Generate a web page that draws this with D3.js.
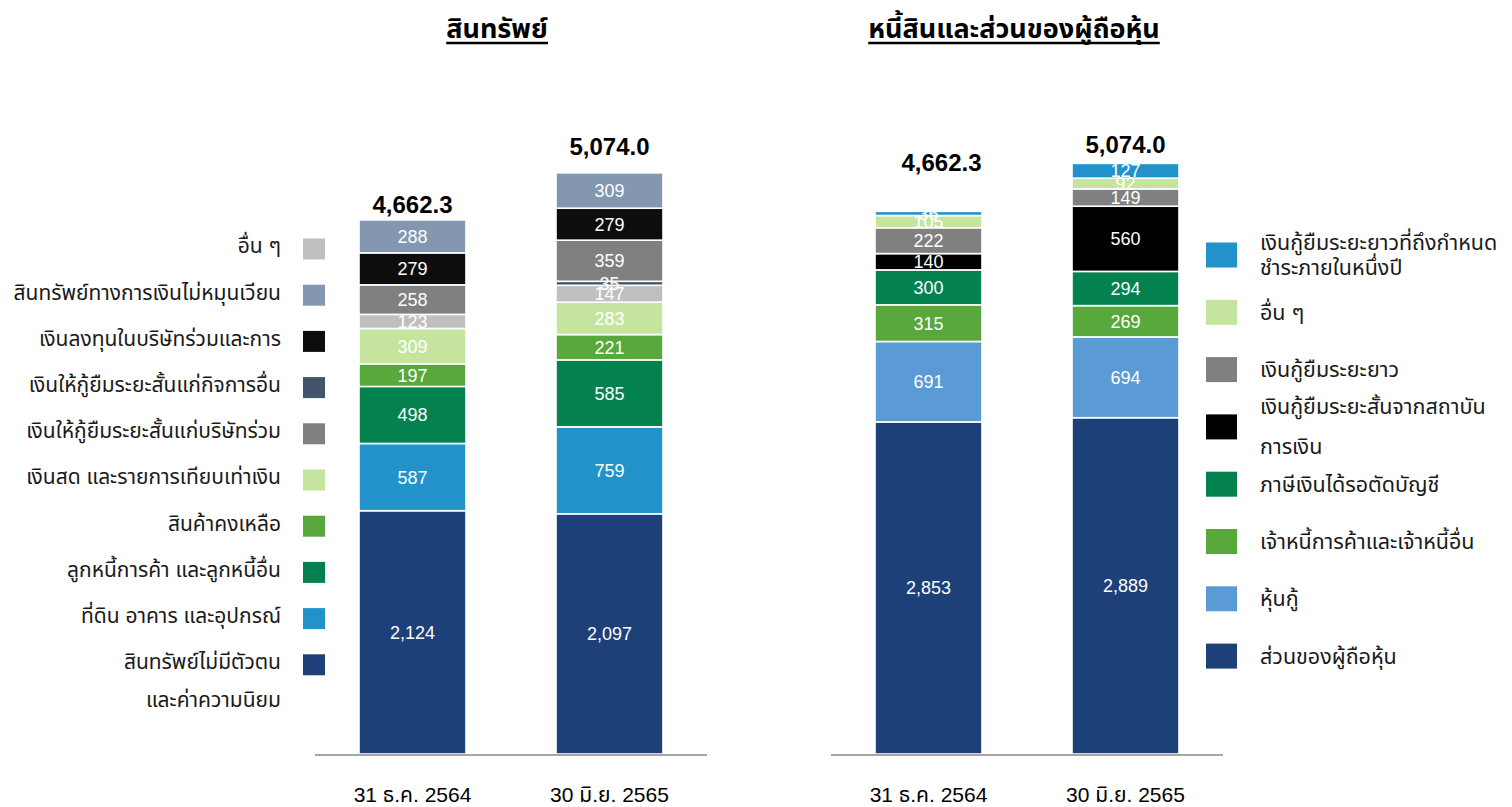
<!DOCTYPE html>
<html>
<head>
<meta charset="utf-8">
<script src="https://cdn.jsdelivr.net/npm/d3@7"></script>
<style>
  html, body { margin: 0; padding: 0; background: #fff; }
  svg { display: block; }
  text { font-family: "Liberation Sans", Arial, "Noto Sans Thai", "Noto Sans", sans-serif; }
</style>
</head>
<body>
<svg id="chart" width="1512" height="807"></svg>
<script>
// ---------- DATA ----------
const categories = ["31 ธ.ค. 2564", "30 มิ.ย. 2565"];

const assetTitle = "สินทรัพย์";
const liabTitle = "หนี้สินและส่วนของผู้ถือหุ้น";

const assetTotals = [4662.3, 5074.0];
const liabTotals = [4662.3, 5074.0];

// Assets (stack order bottom -> top)
const assetNames = [
  "สินทรัพย์ไม่มีตัวตน และค่าความนิยม",
  "ที่ดิน อาคาร และอุปกรณ์",
  "ลูกหนี้การค้า และลูกหนี้อื่น",
  "สินค้าคงเหลือ",
  "เงินสด และรายการเทียบเท่าเงิน",
  "อื่น ๆ",
  "เงินให้กู้ยืมระยะสั้นแก่กิจการอื่น",
  "เงินให้กู้ยืมระยะสั้นแก่บริษัทร่วม",
  "เงินลงทุนในบริษัทร่วมและการ",
  "สินทรัพย์ทางการเงินไม่หมุนเวียน"
];
const intangibles = [2124, 2097];
const ppe = [587, 759];
const receivables = [498, 585];
const inventory = [197, 221];
const cash = [309, 283];
const assetOthers = [123, 147];
const loansOther = [0, 35];
const loansAssoc = [258, 359];
const investAssoc = [279, 279];
const nonCurrentFin = [288, 309];
const assetColors = ["#1E4078", "#2292CA", "#03814F", "#58A83B", "#C5E59F",
                     "#BFBFBF", "#44546A", "#808080", "#0D0D0D", "#8497B0"];
// legend order (top -> bottom)
const assetLegendOrder = [5, 9, 8, 6, 7, 4, 3, 2, 1, 0];

// Liabilities & equity (stack order bottom -> top)
const liabNames = [
  "ส่วนของผู้ถือหุ้น",
  "หุ้นกู้",
  "เจ้าหนี้การค้าและเจ้าหนี้อื่น",
  "ภาษีเงินได้รอตัดบัญชี",
  "เงินกู้ยืมระยะสั้นจากสถาบันการเงิน",
  "เงินกู้ยืมระยะยาว",
  "อื่น ๆ",
  "เงินกู้ยืมระยะยาวที่ถึงกำหนดชำระภายในหนึ่งปี"
];
const equity = [2853, 2889];
const debentures = [691, 694];
const payables = [315, 269];
const deferredTax = [300, 294];
const shortLoans = [140, 560];
const longLoans = [222, 149];
const liabOthers = [105, 92];
const currentLongLoans = [36, 127];
const liabColors = ["#1E4078", "#5B9BD5", "#58A83B", "#03814F", "#000000",
                    "#808080", "#C5E59F", "#2292CA"];
const liabLegendOrder = [7, 6, 5, 4, 3, 2, 1, 0];

const assetSeries = [intangibles, ppe, receivables, inventory, cash, assetOthers,
                     loansOther, loansAssoc, investAssoc, nonCurrentFin];
const liabSeries = [equity, debentures, payables, deferredTax, shortLoans,
                    longLoans, liabOthers, currentLongLoans];

// ---------- LAYOUT ----------
const svg = d3.select("#chart");
const fmt = d3.format(",");
const fmtTot = d3.format(",.1f");

function buildRows(series) {
  return categories.map((c, i) => {
    const row = { cat: c };
    series.forEach((s, k) => row["s" + k] = s[i]);
    return row;
  });
}

function drawPanel(opt) {
  const g = svg.append("g");
  const x = d3.scaleBand().domain(categories)
    .range([opt.x0, opt.x1]).paddingInner(0.457).paddingOuter(0.2234);
  const y = d3.scaleLinear().domain([0, 5500]).range([754, 754 - opt.k * 5500]);

  const keys = opt.series.map((s, k) => "s" + k);
  const stacked = d3.stack().keys(keys)(buildRows(opt.series));

  const layers = g.selectAll("g.layer").data(stacked).join("g")
    .attr("fill", (d, k) => opt.colors[k]);
  layers.selectAll("rect").data(d => d.filter(p => p[1] - p[0] > 0)).join("rect")
    .attr("x", d => x(d.data.cat))
    .attr("width", x.bandwidth())
    .attr("y", d => y(d[1]))
    .attr("height", d => y(d[0]) - y(d[1]))
    .attr("stroke", "#fff")
    .attr("stroke-width", 1.6);

  // segment labels
  const labs = g.append("g");
  stacked.forEach((layer, k) => {
    layer.forEach(p => {
      const v = p[1] - p[0];
      if (v <= 0) return;
      labs.append("text")
        .attr("x", x(p.data.cat) + x.bandwidth() / 2)
        .attr("y", (y(p[0]) + y(p[1])) / 2)
        .attr("dy", "0.36em")
        .attr("text-anchor", "middle")
        .attr("fill", "#fff")
        .attr("font-size", 18)
        .text(fmt(v));
    });
  });

  // baseline
  g.append("line")
    .attr("x1", opt.x0).attr("x2", opt.x1)
    .attr("y1", 755).attr("y2", 755)
    .attr("stroke", "#A6A6A6").attr("stroke-width", 2);

  // category labels
  g.selectAll("text.cat").data(categories).join("text")
    .attr("class", "cat")
    .attr("x", d => x(d) + x.bandwidth() / 2)
    .attr("y", 795).attr("dy", "0.35em")
    .attr("text-anchor", "middle")
    .attr("font-size", 21)
    .attr("fill", "#000")
    .text(d => d);

  // totals
  g.selectAll("text.tot").data(opt.totals).join("text")
    .attr("class", "tot")
    .attr("x", (d, i) => x(categories[i]) + x.bandwidth() / 2 + opt.totDx[i])
    .attr("y", (d, i) => y(d) - opt.totGap[i])
    .attr("text-anchor", "middle")
    .attr("font-size", 24)
    .attr("font-weight", "bold")
    .attr("fill", "#000")
    .text(d => fmtTot(d));

  // title
  const t = g.append("text")
    .attr("x", opt.titleX).attr("y", 38)
    .attr("text-anchor", "middle")
    .attr("font-size", 27)
    .attr("font-weight", "bold")
    .attr("fill", "#000")
    .text(opt.title);
  const bb = t.node().getBBox();
  g.append("line")
    .attr("x1", bb.x).attr("x2", bb.x + bb.width)
    .attr("y1", 43).attr("y2", 43)
    .attr("stroke", "#000").attr("stroke-width", 2.5);
  return g;
}

drawPanel({
  x0: 315, x1: 707, k: 0.11454, series: assetSeries, colors: assetColors,
  totals: assetTotals, totDx: [0, 0], totGap: [7, 18], title: assetTitle, titleX: 497
});
drawPanel({
  x0: 831, x1: 1223, k: 0.1164, series: liabSeries, colors: liabColors,
  totals: liabTotals, totDx: [13, 0], totGap: [40, 10], title: liabTitle, titleX: 1014
});

// ---------- LEGENDS ----------
// left legend: right-aligned text, swatch on right
const legL = svg.append("g");
const leftWrap = { 0: ["สินทรัพย์ไม่มีตัวตน", "และค่าความนิยม"] };
assetLegendOrder.forEach((k, i) => {
  const cy = 249 + i * 46.2;
  legL.append("rect")
    .attr("x", 303).attr("y", cy - 10.5)
    .attr("width", 22).attr("height", 21)
    .attr("fill", assetColors[k]);
  const lines = leftWrap[k] || [assetNames[k]];
  lines.forEach((ln, j) => {
    legL.append("text")
      .attr("x", 281).attr("y", cy - 3 + j * 38)
      .attr("dy", "0.35em")
      .attr("text-anchor", "end")
      .attr("font-size", 21)
      .attr("fill", "#1a1a1a")
      .text(ln);
  });
});

// right legend
const legR = svg.append("g");
const rightWrap = {
  7: { lines: ["เงินกู้ยืมระยะยาวที่ถึงกำหนด", "ชำระภายในหนึ่งปี"], gap: 25 },
  4: { lines: ["เงินกู้ยืมระยะสั้นจากสถาบัน", "การเงิน"], gap: 40 }
};
liabLegendOrder.forEach((k, i) => {
  const cy = 255 + i * 57.3;
  legR.append("rect")
    .attr("x", 1206).attr("y", cy - 12.5)
    .attr("width", 31).attr("height", 25)
    .attr("fill", liabColors[k]);
  const w = rightWrap[k];
  const lines = w ? w.lines : [liabNames[k]];
  const gap = w ? w.gap : 0;
  lines.forEach((ln, j) => {
    legR.append("text")
      .attr("x", 1260).attr("y", cy - gap * (lines.length - 1) / 2 + j * gap)
      .attr("dy", "0.35em")
      .attr("font-size", 21.5)
      .attr("fill", "#1a1a1a")
      .text(ln);
  });
});
</script>
</body>
</html>
